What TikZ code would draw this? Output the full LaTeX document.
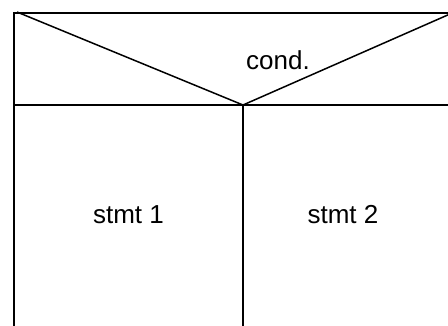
\documentclass[tikz,border=0pt]{standalone}
\usepackage{fontspec}
\setmainfont{Liberation Sans}
\begin{document}
\begin{tikzpicture}[x=1pt,y=-1pt,
  ln/.style={line width=1.5pt},
  lbl/.style={font=\fontsize{26}{30}\selectfont, inner sep=0pt}]
\useasboundingbox (0,0) rectangle (448,325);
\clip (0,0) rectangle (448,325);
\coordinate (tl) at (14,13);
\coordinate (tr) at (452,13);
\coordinate (ml) at (14,105);
\coordinate (mr) at (452,105);
\coordinate (c) at (243,105);
\coordinate (bl) at (14,330);
\coordinate (bc) at (243,330);
\coordinate (dl) at (17,12);
\coordinate (dr) at (450,14);
\draw[ln] (bl) -- (tl) -- (tr);
\draw[ln] (ml) -- (mr);
\draw[ln] (c) -- (bc);
\draw[ln] (dl) -- (c) -- (dr);
\node[lbl] (cond) at (278,60) {cond.};
\node[lbl] (s1) at (128.5,215) {stmt 1};
\node[lbl] (s2) at (343,215) {stmt 2};
\end{tikzpicture}
\end{document}
